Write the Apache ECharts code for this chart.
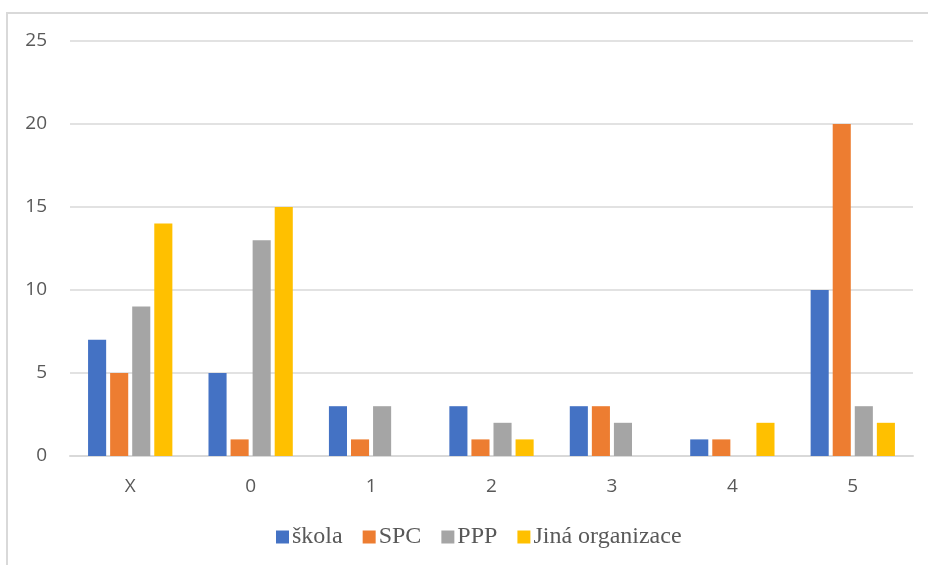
<!DOCTYPE html>
<html>
<head>
<meta charset="utf-8">
<script src="https://cdn.jsdelivr.net/npm/echarts@6/dist/echarts.min.js"></script>
<style>
  html, body { margin: 0; padding: 0; background: #fff; }
  #chart { width: 928px; height: 565px; }
</style>
</head>
<body>
<div id="chart"></div>
<script>
// data
const categories = ['X', '0', '1', '2', '3', '4', '5']
const skola = [7, 5, 3, 3, 3, 1, 10]
const spc = [5, 1, 1, 1, 3, 1, 20]
const ppp = [9, 13, 3, 2, 2, 0, 3]
const jina = [14, 15, 0, 1, 0, 2, 2]
const yTicks = { min: 0, max: 25, interval: 5 }

const chart = echarts.init(document.getElementById('chart'))

const mkSeries = (name, data, color) => ({
  name,
  type: 'bar',
  data,
  barGap: '22%',
  barCategoryGap: '30%',
  itemStyle: { color }
})

chart.setOption({
  animation: false,
  graphic: [{
    type: 'rect',
    shape: { x: 7, y: 13, width: 940, height: 580 },
    style: { fill: 'none', stroke: '#d9d9d9', lineWidth: 2 },
    silent: true
  }],
  grid: { left: 70, right: 15, top: 41, bottom: 109, containLabel: false },
  legend: {
    bottom: 11,
    left: 271,
    itemWidth: 13,
    itemHeight: 13,
    itemGap: 20,
    icon: 'rect',
    textStyle: { fontFamily: 'Liberation Serif', fontSize: 24, color: '#595959', padding: [0, 0, 0, -2] }
  },
  xAxis: {
    type: 'category',
    data: categories,
    axisLine: { lineStyle: { color: '#d9d9d9', width: 2 } },
    axisTick: { show: false },
    axisLabel: { fontFamily: 'Open Sans', fontSize: 19, color: '#595959', margin: 21 }
  },
  yAxis: {
    type: 'value',
    min: yTicks.min,
    max: yTicks.max,
    interval: yTicks.interval,
    axisLine: { show: false },
    axisTick: { show: false },
    splitLine: { lineStyle: { color: '#d9d9d9', width: 1.5 } },
    axisLabel: { fontFamily: 'Open Sans', fontSize: 19, color: '#595959', margin: 23 }
  },
  series: [
    mkSeries('škola', skola, '#4472C4'),
    mkSeries('SPC', spc, '#ED7D31'),
    mkSeries('PPP', ppp, '#A5A5A5'),
    mkSeries('Jiná organizace', jina, '#FFC000')
  ]
})
</script>
</body>
</html>
